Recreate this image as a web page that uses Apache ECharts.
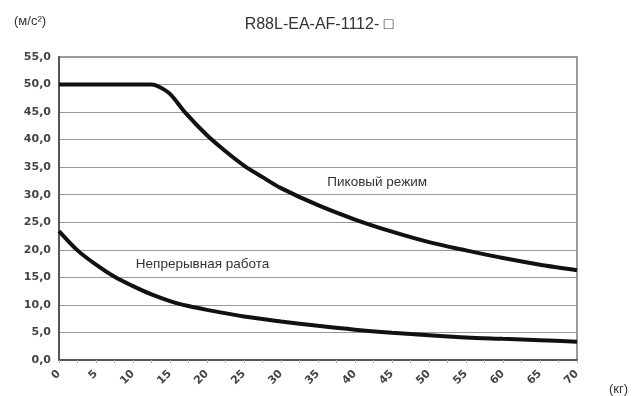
<!DOCTYPE html>
<html>
<head>
<meta charset="utf-8">
<script src="https://cdn.jsdelivr.net/npm/echarts@6/dist/echarts.min.js"></script>
<style>
  html, body { margin: 0; padding: 0; background: #fff; }
  #chart { width: 637px; height: 396px; }
</style>
</head>
<body>
<div id="chart"></div>
<script>
// Load (kg) versus permissible acceleration (m/s²)
const peakMass = [0, 2.5, 5, 7.5, 10, 12.5, 13.5, 15, 17, 20, 22.5, 25, 27.5, 30, 35, 40, 45, 50, 55, 60, 65, 70];
const peakAccel = [50, 50, 50, 50, 50, 50, 49.6, 48.3, 45.0, 40.8, 37.9, 35.3, 33.2, 31.2, 28.1, 25.5, 23.3, 21.4, 19.9, 18.5, 17.3, 16.3];

const contMass = [0, 2.5, 5, 7.5, 10, 12.5, 15, 17.5, 20, 25, 30, 35, 40, 45, 50, 55, 60, 65, 70];
const contAccel = [23.4, 19.9, 17.3, 15.1, 13.4, 11.9, 10.7, 9.8, 9.1, 7.9, 7.0, 6.2, 5.5, 4.95, 4.5, 4.1, 3.85, 3.6, 3.3];

const titleText = 'R88L-EA-AF-1112- \u25A1';
const yUnit = '(м/с²)';
const xUnit = '(кг)';
const peakLabel = 'Пиковый режим';
const contLabel = 'Непрерывная работа';

const font = 'Liberation Sans, Arial, sans-serif';
const tickFont = 'DejaVu Sans, sans-serif';

function pairs(xs, ys) { return xs.map((x, i) => [x, ys[i]]); }

const chart = echarts.init(document.getElementById('chart'), null, { renderer: 'canvas' });
chart.setOption({
  animation: false,
  backgroundColor: '#ffffff',
  title: {
    text: titleText,
    left: 314, top: 12, textAlign: 'center',
    textStyle: { fontFamily: font, fontSize: 16, fontWeight: 'normal', color: '#333' }
  },
  graphic: [
    { type: 'text', left: 14, top: 15,
      style: { text: yUnit, font: '13px ' + font, fill: '#333' } },
    { type: 'text', left: 609, top: 383,
      style: { text: xUnit, font: '13px ' + font, fill: '#333' } }
  ],
  grid: {
    left: 59, right: 60, top: 57, bottom: 36,
    show: true, borderColor: '#9a9a9a', borderWidth: 2, backgroundColor: '#fff'
  },
  xAxis: {
    type: 'value', min: 0, max: 70, interval: 5,
    axisLine: { show: true, onZero: false, lineStyle: { color: '#555', width: 2 } },
    axisTick: { show: true, length: 3, lineStyle: { color: '#aaa' } },
    minorTick: { show: true, splitNumber: 2, length: 3, lineStyle: { color: '#aaa' } },
    splitLine: { show: false },
    axisLabel: { rotate: 45, margin: 12, fontFamily: tickFont, fontSize: 11, fontWeight: 'bold', color: '#444' }
  },
  yAxis: {
    type: 'value', min: 0, max: 55, interval: 5,
    axisLine: { show: true, lineStyle: { color: '#555', width: 2 } },
    axisTick: { show: false },
    splitLine: { show: true, lineStyle: { color: '#999', width: 1 } },
    axisLabel: {
      margin: 8, fontFamily: tickFont, fontSize: 11, fontWeight: 'bold', color: '#444',
      formatter: v => v.toFixed(1).replace('.', ',')
    }
  },
  series: [
    {
      type: 'line', data: pairs(peakMass, peakAccel), smooth: 0.3,
      showSymbol: false, lineStyle: { color: '#111', width: 4 },
      markPoint: {
        symbol: 'circle', symbolSize: 0,
        data: [{ coord: [43.0, 32.2], value: peakLabel }],
        label: { show: true, formatter: peakLabel, fontFamily: font, fontSize: 13.5, color: '#333' }
      }
    },
    {
      type: 'line', data: pairs(contMass, contAccel), smooth: 0.3,
      showSymbol: false, lineStyle: { color: '#111', width: 4 },
      markPoint: {
        symbol: 'circle', symbolSize: 0,
        data: [{ coord: [19.4, 17.4], value: contLabel }],
        label: { show: true, formatter: contLabel, fontFamily: font, fontSize: 13.5, color: '#333' }
      }
    }
  ]
});
</script>
</body>
</html>
